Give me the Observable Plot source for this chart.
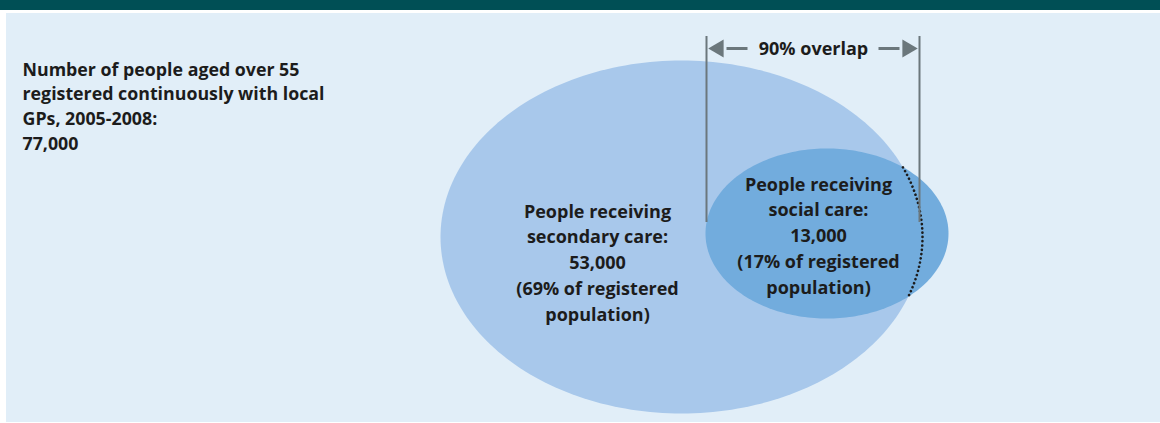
<!DOCTYPE html>
<html>
<head>
<meta charset="utf-8">
<script src="https://cdn.jsdelivr.net/npm/d3@7"></script>
<script src="https://cdn.jsdelivr.net/npm/@observablehq/plot@0.6"></script>
<style>
  html, body { margin: 0; padding: 0; background: #ffffff; }
  #chart svg { display: block; }
</style>
</head>
<body>
<div id="chart"></div>
<script>
// ---- data ----
const populationLabel = "Number of people aged over 55\nregistered continuously with local\nGPs, 2005-2008:";
const populationTotal = 77000;
const groups = ["secondary care", "social care"];
const groupCounts = [53000, 13000];
const groupShares = [69, 17];
const overlapShare = 90;

// ---- layout ----
const W = 1160, H = 423;
const fmt = d3.format(",");
const ellipses = [
  {cx: 681, cy: 236.5, rx: 241, ry: 176.5, fill: "#a8c8eb"},
  {cx: 826.5, cy: 233, rx: 121.5, ry: 85, fill: "#72acdd"}
];
function ellipsePts(e, n = 240) {
  return d3.range(n).map(i => {
    const t = (i / n) * 2 * Math.PI;
    return {x: e.cx + e.rx * Math.cos(t), y: e.cy + e.ry * Math.sin(t)};
  });
}
const big = ellipses[0], small = ellipses[1];
const inside = (p) => ((p.x - small.cx) / small.rx) ** 2 + ((p.y - small.cy) / small.ry) ** 2 <= 1;
const arcPts = d3.range(0, 241).map(i => {
  const t = -Math.PI / 2 + (i / 240) * Math.PI;
  return {x: big.cx + big.rx * Math.cos(t), y: big.cy + big.ry * Math.sin(t)};
}).filter(inside);

const font = "'Open Sans', sans-serif";
const ink = "#1c1c1c";
const grey = "#6b777c";

const texts = [
  {x: 22, y: 149, anchor: "start", size: 17.8, lh: 1.38,
   t: populationLabel + "\n" + fmt(populationTotal)},
  {x: 597, y: 320, anchor: "middle", size: 18, lh: 1.43,
   t: `People receiving\n${groups[0]}:\n${fmt(groupCounts[0])}\n(${groupShares[0]}% of registered\npopulation)`},
  {x: 818, y: 293, anchor: "middle", size: 18, lh: 1.43,
   t: `People receiving\n${groups[1]}:\n${fmt(groupCounts[1])}\n(${groupShares[1]}% of registered\npopulation)`},
  {x: 813, y: 54, anchor: "middle", size: 18, lh: 1.2, t: `${overlapShare}% overlap`}
];

const chart = Plot.plot({
  width: W, height: H,
  margin: 0,
  x: {domain: [0, W], range: [0, W], axis: null},
  y: {domain: [0, H], range: [0, H], axis: null},
  style: {fontFamily: font, background: "#ffffff"},
  marks: [
    Plot.rect([0], {x1: 0, x2: W, y1: 0, y2: 10, fill: "#004f55"}),
    Plot.rect([0], {x1: 6, x2: W, y1: 13, y2: 422, fill: "#e1eef8"}),
    ...ellipses.map(e => Plot.line(ellipsePts(e), {x: "x", y: "y", fill: e.fill, stroke: null, curve: "linear-closed"})),
    Plot.line(arcPts, {x: "x", y: "y", stroke: ink, strokeWidth: 2.6, strokeDasharray: "0.1,4.2", strokeLinecap: "round"}),
    Plot.ruleX([706, 919], {y1: 36, y2: 222, stroke: grey, strokeWidth: 2}),
    Plot.link([{a: 726, b: 747}, {a: 878, b: 899}], {x1: "a", x2: "b", y1: () => 48, y2: () => 48, stroke: grey, strokeWidth: 3}),
    Plot.dot([{x: 718, r: -90}, {x: 907, r: 90}], {x: "x", y: () => 48, symbol: "triangle", r: 6.6, fill: grey, stroke: null, rotate: "r"}),
    ...texts.map(d => Plot.text([d], {x: "x", y: "y", text: "t", textAnchor: d.anchor, lineAnchor: "bottom",
      lineHeight: d.lh, fontSize: d.size, fontWeight: 700, fill: ink}))
  ]
});
document.getElementById("chart").appendChild(chart);
</script>
</body>
</html>
